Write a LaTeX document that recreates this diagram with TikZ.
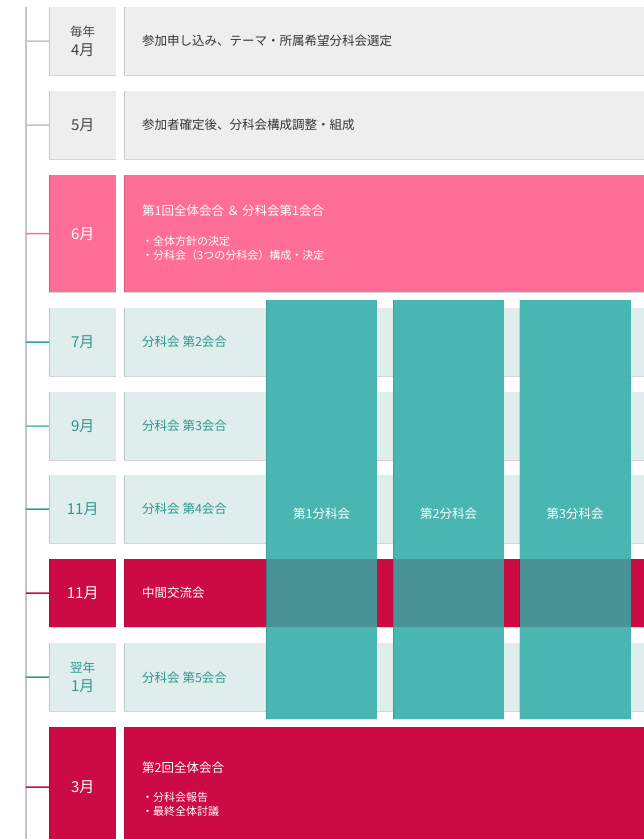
\documentclass[tikz,border=0pt]{standalone}
\usepackage{fontspec}
\setmainfont{Noto Sans CJK JP}
\definecolor{grayfill}{HTML}{EEEEEE}
\definecolor{pinkfill}{HTML}{FF6E96}
\definecolor{lteal}{HTML}{DFEEED}
\definecolor{crimson}{HTML}{CC0A44}
\definecolor{colteal}{HTML}{4AB6B1}
\definecolor{overlapc}{HTML}{479396}
\definecolor{tealtext}{HTML}{2E958F}
\definecolor{tealtick}{HTML}{2BA39B}
\definecolor{tealtickl}{HTML}{6DB5B0}
\definecolor{linegray}{HTML}{C4C4C4}
\definecolor{textdark}{HTML}{333333}
\definecolor{monthdark}{HTML}{444444}
\begin{document}
\begin{tikzpicture}[x=1pt,y=-1pt,
  mbox/.style={anchor=north west, minimum width=67pt, inner sep=0pt, align=center, font=\fontsize{15pt}{18pt}\selectfont},
  cbox/.style={anchor=north west, minimum width=530pt, inner sep=0pt},
  graybox/.style={fill=grayfill, text=monthdark},
  pinkbox/.style={fill=pinkfill, text=white},
  ltealbox/.style={fill=lteal, text=tealtext},
  crimbox/.style={fill=crimson, text=white},
  ctext/.style={anchor=west, inner sep=0pt, font=\fontsize{12.5pt}{15pt}\selectfont},
  btext/.style={anchor=west, inner sep=0pt, font=\fontsize{11pt}{13pt}\selectfont},
  small/.style={},
  edge/.style={draw=black, draw opacity=0.16, line width=1pt},
  tick/.style={line width=1.5pt},
  colbox/.style={anchor=north west, fill=colteal, minimum width=111pt, minimum height=419pt, inner sep=0pt},
  collabel/.style={text=white, inner sep=0pt, font=\fontsize{12.5pt}{15pt}\selectfont}
]
\clip (0,0) rectangle (644,839);
\fill[white] (0,0) rectangle (644,839);

% timeline
\coordinate (ltop) at (26,7);
\coordinate (lbot) at (26,839);
\draw[linegray, line width=1.5pt] (ltop) -- (lbot);

% row 1
\node[mbox, graybox, minimum height=68pt] (m1) at (49,7) {\fontsize{12.5pt}{14pt}\selectfont 毎年\\[1pt]4月};
\node[cbox, graybox, minimum height=68pt] (c1) at (124,7) {};
\node[ctext, text=textdark] (t1) at (142,41) {参加申し込み、テーマ・所属希望分科会選定};
% row 2
\node[mbox, graybox, minimum height=68pt] (m2) at (49,91) {5月};
\node[cbox, graybox, minimum height=68pt] (c2) at (124,91) {};
\node[ctext, text=textdark] (t2) at (142,125) {参加者確定後、分科会構成調整・組成};
% row 3
\node[mbox, pinkbox, minimum height=117pt] (m3) at (49,175) {6月};
\node[cbox, pinkbox, minimum height=117pt] (c3) at (124,175) {};
\node[ctext, text=white] (t3) at (142,211) {第1回全体会合 ＆ 分科会第1会合};
\node[btext, text=white] (t3a) at (142,241) {・全体方針の決定};
\node[btext, text=white] (t3b) at (142,255) {・分科会（3つの分科会）構成・決定};
% row 4
\node[mbox, ltealbox, minimum height=68pt] (m4) at (49,308) {7月};
\node[cbox, ltealbox, minimum height=68pt] (c4) at (124,308) {};
\node[ctext, text=tealtext] (t4) at (142,342) {分科会 第2会合};
% row 5
\node[mbox, ltealbox, minimum height=68pt] (m5) at (49,392) {9月};
\node[cbox, ltealbox, minimum height=68pt] (c5) at (124,392) {};
\node[ctext, text=tealtext] (t5) at (142,426) {分科会 第3会合};
% row 6
\node[mbox, ltealbox, minimum height=68pt] (m6) at (49,475) {11月};
\node[cbox, ltealbox, minimum height=68pt] (c6) at (124,475) {};
\node[ctext, text=tealtext] (t6) at (142,509) {分科会 第4会合};
% row 7
\node[mbox, crimbox, minimum height=68pt] (m7) at (49,559) {11月};
\node[cbox, crimbox, minimum height=68pt] (c7) at (124,559) {};
\node[ctext, text=white] (t7) at (142,593) {中間交流会};
% row 8
\node[mbox, ltealbox, minimum height=68pt] (m8) at (49,643) {\fontsize{12.5pt}{14pt}\selectfont 翌年\\[1pt]1月};
\node[cbox, ltealbox, minimum height=68pt] (c8) at (124,643) {};
\node[ctext, text=tealtext] (t8) at (142,678) {分科会 第5会合};
% row 9
\node[mbox, crimbox, minimum height=120pt] (m9) at (49,727) {3月};
\node[cbox, crimbox, minimum height=120pt] (c9) at (124,727) {};
\node[ctext, text=white] (t9) at (142,768) {第2回全体会合};
\node[btext, text=white] (t9a) at (142,797) {・分科会報告};
\node[btext, text=white] (t9b) at (142,811) {・最終全体討議};

% box edges
\foreach \n in {m1,c1,m2,c2,m3,c3,m4,c4,m5,c5,m6,c6,m7,c7,m8,c8,m9,c9}
  \draw[edge] (\n.north west) -- (\n.south west) -- (\n.south east);

% ticks
\coordinate (k1) at (26,41);
\coordinate (k2) at (26,125);
\coordinate (k3) at (26,233.5);
\coordinate (k4) at (26,342);
\coordinate (k5) at (26,426);
\coordinate (k6) at (26,509);
\coordinate (k7) at (26,593);
\coordinate (k8) at (26,677);
\coordinate (k9) at (26,787);
\draw[tick, linegray] (k1) -- (m1.west);
\draw[tick, linegray] (k2) -- (m2.west);
\draw[tick, pinkfill] (k3) -- (m3.west);
\draw[tick, tealtick] (k4) -- (m4.west);
\draw[tick, tealtickl] (k5) -- (m5.west);
\draw[tick, tealtick] (k6) -- (m6.west);
\draw[tick, crimson] (k7) -- (m7.west);
\draw[tick, tealtick] (k8) -- (m8.west);
\draw[tick, crimson] (k9) -- (m9.west);

% subcommittee columns
\node[colbox] (g1) at (266,300) {};
\node[colbox] (g2) at (393,300) {};
\node[colbox] (g3) at (519.5,300) {};
\foreach \n in {g1,g2,g3}{
  \fill[overlapc] (\n.west |- c7.north) rectangle (\n.east |- c7.south);
  \draw[black, draw opacity=0.12, line width=0.8pt] (\n.north west) -- (\n.south west) -- (\n.south east);
}
\node[collabel] (l1) at (g1.center |- 0,514) {第1分科会};
\node[collabel] (l2) at (g2.center |- 0,514) {第2分科会};
\node[collabel] (l3) at (g3.center |- 0,514) {第3分科会};
\end{tikzpicture}
\end{document}
